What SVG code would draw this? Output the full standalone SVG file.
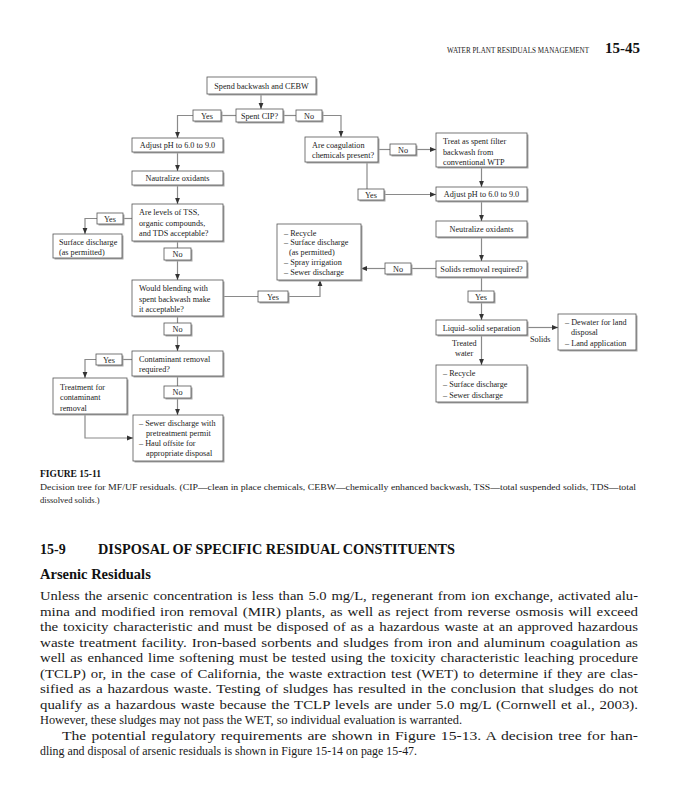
<svg xmlns="http://www.w3.org/2000/svg" width="689" height="800" viewBox="0 0 689 800">
<style>
.sh{fill:#a8a8a8}
.bx{fill:#fff;stroke:#555;stroke-width:0.8}
.t{font-family:"Liberation Serif","Times New Roman",serif;font-size:8.2px;fill:#222}
.c{text-anchor:middle}
.cn{fill:none;stroke:#8a8a8a;stroke-width:1.2}
.body{font-family:"Liberation Serif","Times New Roman",serif;font-size:12.8px;fill:#1a1a1a}
.j{word-spacing:1px}
</style>
<defs>
<marker id="ar" viewBox="0 0 6 6" refX="6" refY="3" markerWidth="6" markerHeight="6" markerUnits="userSpaceOnUse" orient="auto">
<path d="M0,0.6 L6,3 L0,5.4 Z" fill="#333"/>
</marker>
</defs>
<rect width="689" height="800" fill="#fff"/>

<!-- header -->
<text x="447" y="53" font-family="Liberation Serif,serif" font-size="7.4" fill="#222" textLength="142" lengthAdjust="spacingAndGlyphs">WATER PLANT RESIDUALS MANAGEMENT</text>
<text x="605" y="53" font-family="Liberation Serif,serif" font-size="15" font-weight="bold" fill="#111">15-45</text>

<!-- connectors -->
<g id="connectors">
<path class="cn" d="M261,94 V109" marker-end="url(#ar)"/>
<path class="cn" d="M236,115.5 H221"/>
<path class="cn" d="M193,115.5 H177.5 V138" marker-end="url(#ar)"/>
<path class="cn" d="M283,115.5 H296"/>
<path class="cn" d="M322,115.5 H341 V137" marker-end="url(#ar)"/>
<path class="cn" d="M177.5,152 V171" marker-end="url(#ar)"/>
<path class="cn" d="M177.5,185 V204" marker-end="url(#ar)"/>
<path class="cn" d="M132,218.5 H123"/>
<path class="cn" d="M97,218.5 H85 V234" marker-end="url(#ar)"/>
<path class="cn" d="M177.5,241 V248"/>
<path class="cn" d="M177.5,260 V280" marker-end="url(#ar)"/>
<path class="cn" d="M223,296.5 H258"/>
<path class="cn" d="M288,296.5 H320 V280" marker-end="url(#ar)"/>
<path class="cn" d="M177.5,316 V323"/>
<path class="cn" d="M177.5,335 V351" marker-end="url(#ar)"/>
<path class="cn" d="M132,359.5 H122"/>
<path class="cn" d="M96,359.5 H85 V378" marker-end="url(#ar)"/>
<path class="cn" d="M177.5,376 V386"/>
<path class="cn" d="M177.5,398 V415" marker-end="url(#ar)"/>
<path class="cn" d="M85,414 V438 H133" marker-end="url(#ar)"/>
<path class="cn" d="M378,149.5 H390"/>
<path class="cn" d="M416,149.5 H436" marker-end="url(#ar)"/>
<path class="cn" d="M367,162 V189"/>
<path class="cn" d="M384,194.5 H436" marker-end="url(#ar)"/>
<path class="cn" d="M481.5,167 V187" marker-end="url(#ar)"/>
<path class="cn" d="M481.5,201 V221" marker-end="url(#ar)"/>
<path class="cn" d="M481.5,237 V261" marker-end="url(#ar)"/>
<path class="cn" d="M436,268.5 H412"/>
<path class="cn" d="M385,268.5 H361" marker-end="url(#ar)"/>
<path class="cn" d="M481.5,277 V291"/>
<path class="cn" d="M481.5,302 V320" marker-end="url(#ar)"/>
<path class="cn" d="M527,327.5 H558" marker-end="url(#ar)"/>
<path class="cn" d="M481.5,335 V365" marker-end="url(#ar)"/>
</g>

<!-- nodes -->
<g id="n-start"><rect class="sh" x="208.5" y="78.5" width="109" height="17"/><rect class="bx" x="207" y="77" width="109" height="17"/><text class="t c" x="261.5" y="88.5">Spend backwash and CEBW</text></g>
<g id="n-cip"><rect class="sh" x="237.5" y="110.5" width="47" height="13"/><rect class="bx" x="236" y="109" width="47" height="13"/><text class="t c" x="259.5" y="118.5">Spent CIP?</text></g>
<g id="l-yes1"><rect class="sh" x="194.5" y="111.5" width="28" height="11"/><rect class="bx" x="193" y="110" width="28" height="11"/><text class="t c" x="207" y="118.5">Yes</text></g>
<g id="l-no1"><rect class="sh" x="297.5" y="111.5" width="26" height="11"/><rect class="bx" x="296" y="110" width="26" height="11"/><text class="t c" x="309" y="118.5">No</text></g>

<g id="n-adjL"><rect class="sh" x="133.5" y="139.5" width="91" height="14"/><rect class="bx" x="132" y="138" width="91" height="14"/><text class="t c" x="177.5" y="148">Adjust pH to 6.0 to 9.0</text></g>
<g id="n-neuL"><rect class="sh" x="133.5" y="172.5" width="91" height="14"/><rect class="bx" x="132" y="171" width="91" height="14"/><text class="t c" x="177.5" y="181">Nautralize oxidants</text></g>
<g id="n-levels"><rect class="sh" x="133.5" y="205.5" width="91" height="37"/><rect class="bx" x="132" y="204" width="91" height="37"/><text class="t" x="139" y="215">Are levels of TSS,</text><text class="t" x="139" y="225.5">organic compounds,</text><text class="t" x="139" y="236">and TDS acceptable?</text></g>
<g id="l-yesL"><rect class="sh" x="98.5" y="214.5" width="26" height="11"/><rect class="bx" x="97" y="213" width="26" height="11"/><text class="t c" x="110" y="221.5">Yes</text></g>
<g id="n-surface"><rect class="sh" x="54.5" y="235.5" width="69" height="24"/><rect class="bx" x="53" y="234" width="69" height="24"/><text class="t" x="59" y="244.5">Surface discharge</text><text class="t" x="59" y="254.5">(as permitted)</text></g>
<g id="l-noL1"><rect class="sh" x="165.5" y="249.5" width="27" height="12"/><rect class="bx" x="164" y="248" width="27" height="12"/><text class="t c" x="177.5" y="257">No</text></g>
<g id="n-blend"><rect class="sh" x="133.5" y="281.5" width="91" height="36"/><rect class="bx" x="132" y="280" width="91" height="36"/><text class="t" x="139" y="291">Would blending with</text><text class="t" x="139" y="301.5">spent backwash make</text><text class="t" x="139" y="312">it acceptable?</text></g>
<g id="l-yesB"><rect class="sh" x="259.5" y="292.5" width="30" height="11"/><rect class="bx" x="258" y="291" width="30" height="11"/><text class="t c" x="273" y="299.5">Yes</text></g>
<g id="n-recycle1"><rect class="sh" x="278.5" y="225.5" width="84" height="56"/><rect class="bx" x="277" y="224" width="84" height="56"/><text class="t" x="284" y="235.5">– Recycle</text><text class="t" x="284" y="245.3">– Surface discharge</text><text class="t" x="289" y="255">(as permitted)</text><text class="t" x="284" y="264.8">– Spray irrigation</text><text class="t" x="284" y="274.5">– Sewer discharge</text></g>
<g id="l-noL2"><rect class="sh" x="165.5" y="324.5" width="27" height="12"/><rect class="bx" x="164" y="323" width="27" height="12"/><text class="t c" x="177.5" y="332">No</text></g>
<g id="n-contam"><rect class="sh" x="133.5" y="352.5" width="91" height="25"/><rect class="bx" x="132" y="351" width="91" height="25"/><text class="t" x="139" y="361.5">Contaminant removal</text><text class="t" x="139" y="372">required?</text></g>
<g id="l-yesL2"><rect class="sh" x="97.5" y="355.5" width="26" height="11"/><rect class="bx" x="96" y="354" width="26" height="11"/><text class="t c" x="109" y="362.5">Yes</text></g>
<g id="n-treat-cont"><rect class="sh" x="54.5" y="379.5" width="74" height="36"/><rect class="bx" x="53" y="378" width="74" height="36"/><text class="t" x="60" y="389.5">Treatment for</text><text class="t" x="60" y="400">contaminant</text><text class="t" x="60" y="410.5">removal</text></g>
<g id="l-noL3"><rect class="sh" x="165.5" y="387.5" width="27" height="12"/><rect class="bx" x="164" y="386" width="27" height="12"/><text class="t c" x="177.5" y="395">No</text></g>
<g id="n-final"><rect class="sh" x="134.5" y="416.5" width="90" height="46"/><rect class="bx" x="133" y="415" width="90" height="46"/><text class="t" x="139" y="425.5">– Sewer discharge with</text><text class="t" x="146" y="435.5">pretreatment permit</text><text class="t" x="139" y="445.5">– Haul offsite for</text><text class="t" x="146" y="455.5">appropriate disposal</text></g>

<g id="n-coag"><rect class="sh" x="306.5" y="138.5" width="73" height="25"/><rect class="bx" x="305" y="137" width="73" height="25"/><text class="t" x="312" y="147.5">Are coagulation</text><text class="t" x="312" y="158">chemicals present?</text></g>
<g id="l-noC"><rect class="sh" x="391.5" y="145.5" width="26" height="11"/><rect class="bx" x="390" y="144" width="26" height="11"/><text class="t c" x="403" y="152.5">No</text></g>
<g id="n-treatas"><rect class="sh" x="437.5" y="134.5" width="91" height="34"/><rect class="bx" x="436" y="133" width="91" height="34"/><text class="t" x="443" y="144">Treat as spent filter</text><text class="t" x="443" y="154.5">backwash from</text><text class="t" x="443" y="165">conventional WTP</text></g>
<g id="l-yesC"><rect class="sh" x="359.5" y="190.5" width="26" height="11"/><rect class="bx" x="358" y="189" width="26" height="11"/><text class="t c" x="371" y="197.5">Yes</text></g>
<g id="n-adjR"><rect class="sh" x="437.5" y="188.5" width="91" height="14"/><rect class="bx" x="436" y="187" width="91" height="14"/><text class="t c" x="481.5" y="197">Adjust pH to 6.0 to 9.0</text></g>
<g id="n-neuR"><rect class="sh" x="437.5" y="222.5" width="91" height="16"/><rect class="bx" x="436" y="221" width="91" height="16"/><text class="t c" x="481.5" y="232">Neutralize oxidants</text></g>
<g id="n-solids"><rect class="sh" x="437.5" y="262.5" width="91" height="16"/><rect class="bx" x="436" y="261" width="91" height="16"/><text class="t c" x="481.5" y="272">Solids removal required?</text></g>
<g id="l-noS"><rect class="sh" x="386.5" y="264.5" width="26" height="11"/><rect class="bx" x="385" y="263" width="26" height="11"/><text class="t c" x="398" y="271.5">No</text></g>
<g id="l-yesS"><rect class="sh" x="469.5" y="292.5" width="26" height="11"/><rect class="bx" x="468" y="291" width="26" height="11"/><text class="t c" x="481" y="299.5">Yes</text></g>
<g id="n-ls"><rect class="sh" x="437.5" y="321.5" width="91" height="15"/><rect class="bx" x="436" y="320" width="91" height="15"/><text class="t c" x="481.5" y="330.5">Liquid–solid separation</text></g>
<g id="n-dewater"><rect class="sh" x="559.5" y="315.5" width="78" height="36"/><rect class="bx" x="558" y="314" width="78" height="36"/><text class="t" x="565" y="324.5">– Dewater for land</text><text class="t" x="571" y="335">disposal</text><text class="t" x="565" y="345.5">– Land application</text></g>
<g id="lbl-solids"><text class="t" x="530" y="342">Solids</text></g>
<g id="lbl-treated"><text class="t" x="452" y="346">Treated</text><text class="t" x="455" y="356">water</text></g>
<g id="n-recycle2"><rect class="sh" x="437.5" y="366.5" width="91" height="37"/><rect class="bx" x="436" y="365" width="91" height="37"/><text class="t" x="443" y="376">– Recycle</text><text class="t" x="443" y="387">– Surface discharge</text><text class="t" x="443" y="398">– Sewer discharge</text></g>

<!-- caption -->
<text x="40" y="477" font-family="Liberation Serif,serif" font-size="9.5" font-weight="bold" fill="#111">FIGURE 15-11</text>
<text x="40" y="490" font-family="Liberation Serif,serif" font-size="8.6" fill="#222" textLength="596" lengthAdjust="spacingAndGlyphs">Decision tree for MF/UF residuals. (CIP—clean in place chemicals, CEBW—chemically enhanced backwash, TSS—total suspended solids, TDS—total</text>
<text x="40" y="503" font-family="Liberation Serif,serif" font-size="8.6" fill="#222">dissolved solids.)</text>

<!-- section heading -->
<text x="40" y="554" font-family="Liberation Serif,serif" font-size="14" font-weight="bold" fill="#111">15-9</text>
<text x="98" y="554" font-family="Liberation Serif,serif" font-size="14" font-weight="bold" fill="#111" textLength="357" lengthAdjust="spacingAndGlyphs">DISPOSAL OF SPECIFIC RESIDUAL CONSTITUENTS</text>
<text x="40" y="579" font-family="Liberation Serif,serif" font-size="14.5" font-weight="bold" fill="#111">Arsenic Residuals</text>

<!-- body -->
<text class="body j" x="40" y="600" textLength="598" lengthAdjust="spacingAndGlyphs">Unless the arsenic concentration is less than 5.0 mg/L, regenerant from ion exchange, activated alu-</text>
<text class="body j" x="40" y="615.5" textLength="598" lengthAdjust="spacingAndGlyphs">mina and modified iron removal (MIR) plants, as well as reject from reverse osmosis will exceed</text>
<text class="body j" x="40" y="631" textLength="598" lengthAdjust="spacingAndGlyphs">the toxicity characteristic and must be disposed of as a hazardous waste at an approved hazardous</text>
<text class="body j" x="40" y="646.5" textLength="598" lengthAdjust="spacingAndGlyphs">waste treatment facility. Iron-based sorbents and sludges from iron and aluminum coagulation as</text>
<text class="body j" x="40" y="662" textLength="598" lengthAdjust="spacingAndGlyphs">well as enhanced lime softening must be tested using the toxicity characteristic leaching procedure</text>
<text class="body j" x="40" y="677.5" textLength="598" lengthAdjust="spacingAndGlyphs">(TCLP) or, in the case of California, the waste extraction test (WET) to determine if they are clas-</text>
<text class="body j" x="40" y="693" textLength="598" lengthAdjust="spacingAndGlyphs">sified as a hazardous waste. Testing of sludges has resulted in the conclusion that sludges do not</text>
<text class="body j" x="40" y="708.5" textLength="598" lengthAdjust="spacingAndGlyphs">qualify as a hazardous waste because the TCLP levels are under 5.0 mg/L (Cornwell et al., 2003).</text>
<text class="body" x="40" y="724" textLength="422" lengthAdjust="spacingAndGlyphs">However, these sludges may not pass the WET, so individual evaluation is warranted.</text>
<text class="body j" x="62" y="739.5" textLength="576" lengthAdjust="spacingAndGlyphs">The potential regulatory requirements are shown in Figure 15-13. A decision tree for han-</text>
<text class="body" x="40" y="755" textLength="377" lengthAdjust="spacingAndGlyphs">dling and disposal of arsenic residuals is shown in Figure 15-14 on page 15-47.</text>
</svg>
